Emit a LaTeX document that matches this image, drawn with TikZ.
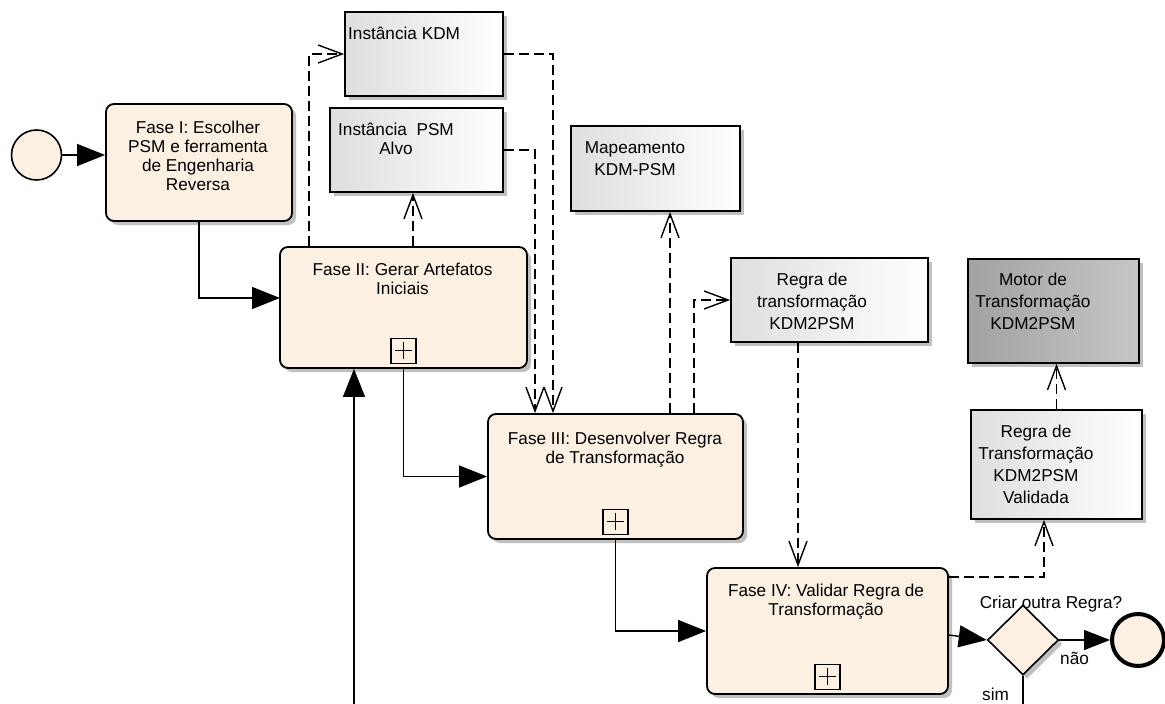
\documentclass[tikz,border=0pt]{standalone}
\usepackage{fontspec}
\setmainfont{Liberation Sans}
\usetikzlibrary{arrows.meta,shapes.geometric,shadows,calc}
\definecolor{taskfill}{RGB}{251,240,225}
\definecolor{docleft}{RGB}{222,222,222}
\definecolor{docright}{RGB}{255,255,255}
\definecolor{engleft}{RGB}{162,162,162}
\definecolor{engright}{RGB}{198,198,198}
\definecolor{shadowgrey}{RGB}{192,192,192}
\begin{document}
\begin{tikzpicture}[x=1pt,y=-1pt,
  font=\fontsize{17.2}{19}\selectfont,
  shadowed/.style={drop shadow={shadow xshift=4pt,shadow yshift=-4pt,fill=shadowgrey,opacity=1}},
  task/.style={shadowed,draw,line width=1.8pt,rounded corners=8pt,fill=taskfill,inner sep=0pt},
  % artifacts: grey on the left fading to white by the middle
  artifact/.style={shadowed,draw,line width=1.8pt,left color=docleft,middle color=docright,right color=docright,inner sep=0pt},
  engine/.style={shadowed,draw,line width=1.8pt,left color=engleft,middle color=engright,right color=engright,inner sep=0pt},
  plusbox/.style={draw,line width=1.3pt,fill=taskfill,minimum size=25pt,inner sep=0pt,
    path picture={\draw[line width=1.1pt]
      ([xshift=4pt]path picture bounding box.west) -- ([xshift=-4pt]path picture bounding box.east)
      ([yshift=-4pt]path picture bounding box.north) -- ([yshift=4pt]path picture bounding box.south);}},
  txt/.style={inner sep=0pt,align=center,anchor=north},
  doctxt/.style={txt,font=\fontsize{17.2}{22}\selectfont},
  flow/.style={line width=1.4pt,-{Triangle[length=28pt,width=22pt]}},
  flowshort/.style={line width=1.4pt,-{Triangle[length=26pt,width=20pt]}},
  assoc/.style={line width=1.4pt,dash pattern=on 10pt off 5pt,-{Straight Barb[length=24pt,width=18pt]}}]

\useasboundingbox[fill=white] (0,0) rectangle (1165,704);

% events, activities and gateway
\node[circle,draw,line width=1.6pt,fill=taskfill,minimum size=50pt,inner sep=0pt] (start) at (36.5,155) {};
\node[task,minimum width=186pt,minimum height=117pt] (f1) at (199,162.5) {};
\node[task,minimum width=247pt,minimum height=121pt] (f2) at (403.5,307.5) {};
\node[task,minimum width=255pt,minimum height=125pt] (f3) at (615.5,476.5) {};
\node[task,minimum width=241pt,minimum height=126pt] (f4) at (827.5,631) {};
\node[diamond,shadowed,draw,line width=1.6pt,fill=taskfill,minimum width=71pt,minimum height=70pt,inner sep=0pt] (gw) at (1023,640) {};
\node[circle,draw,line width=4pt,fill=taskfill,minimum size=52pt,inner sep=0pt] (end) at (1138,640) {};

% sub-process markers
\node[plusbox] (f2p) at ([yshift=18pt]f2.south) {};
\node[plusbox] (f3p) at ([yshift=18pt]f3.south) {};
\node[plusbox] (f4p) at ([yshift=18pt]f4.south) {};

% data artifacts
\node[artifact,minimum width=158pt,minimum height=84pt] (kdm) at (424,54) {};
\node[artifact,minimum width=173pt,minimum height=84pt] (psm) at (416.5,150) {};
\node[artifact,minimum width=169pt,minimum height=85pt] (map) at (655.5,168.5) {};
\node[artifact,minimum width=197pt,minimum height=84pt] (rule) at (829.5,300) {};
\node[engine,minimum width=171pt,minimum height=104pt] (motor) at (1053.5,311) {};
\node[artifact,minimum width=171pt,minimum height=109pt] (valid) at (1056.5,464.5) {};

% texts
\node[txt] (f1t) at (198,121) {Fase I: Escolher\\PSM e ferramenta\\de Engenharia\\Reversa};
\node[txt] (f2t) at (402.5,262.5) {Fase II: Gerar Artefatos\\Iniciais};
\node[txt] (f3t) at (615,431.5) {Fase III: Desenvolver Regra\\de Transformação};
\node[txt] (f4t) at (826,583.5) {Fase IV: Validar Regra de\\Transformação};
\node[txt,anchor=north west] (kdmt) at (348,26.5) {Instância KDM};
\node[txt] (psmt) at (396,122.5) {Instância\ \ PSM\\Alvo};
\node[doctxt] (mapt) at (635,141.5) {Mapeamento\\KDM-PSM};
\node[doctxt] (rulet) at (812,272.5) {Regra de\\transformação\\KDM2PSM};
\node[doctxt] (motort) at (1033,272.5) {Motor de\\Transformação\\KDM2PSM};
\node[doctxt] (validt) at (1036,424.5) {Regra de\\Transformação\\KDM2PSM\\Validada};

% sequence flows
\coordinate (f2in) at (280,298);
\coordinate (loop) at (354,704);
\coordinate (back) at (1023,704);
\draw[flow] (start.east) -- (start.east -| f1.west);
\draw[flow] (f1.south) |- (f2in);
\draw[flow] (f2.south) |- (f3.west);
\draw[flow] (f3.south) |- (f4.west);
\draw[flow] (loop) -- (loop |- f2.south);
\draw[flow] ([yshift=-4pt]f4.east) -- (gw.west);
\draw[flowshort] (gw.east) -- (end.west);
\draw[line width=1.4pt] (gw.south) -- (back);

% data associations
\draw[assoc] ([xshift=-94.5pt]f2.north) |- (kdm.west);
\draw[assoc] ([xshift=9.5pt]f2.north) -- ([xshift=9.5pt]f2.north |- psm.south);
\draw[assoc] (kdm.east) -| ([xshift=-62.5pt]f3.north);
\draw[assoc] (psm.east) -| ([xshift=-80.5pt]f3.north);
\draw[assoc] ([xshift=54.5pt]f3.north) -- ([xshift=54.5pt]f3.north |- map.south);
\draw[assoc] ([xshift=78.5pt]f3.north) |- (rule.west);
\draw[assoc] ([xshift=-31.5pt]rule.south) -- ([xshift=-31.5pt]rule.south |- f4.north);
\draw[assoc] ([yshift=-10pt]f4.north east) -| ([xshift=-12.5pt]valid.south);
\draw[assoc] (valid.north) -- (valid.north |- motor.south);

% gateway labels
\node[txt] (gwt) at (1051,595.5) {Criar outra Regra?};
\node[inner sep=0pt,anchor=base west] (no) at (1060,664) {não};
\node[inner sep=0pt,anchor=base west] (yes) at (982,700) {sim};
\end{tikzpicture}
\end{document}
